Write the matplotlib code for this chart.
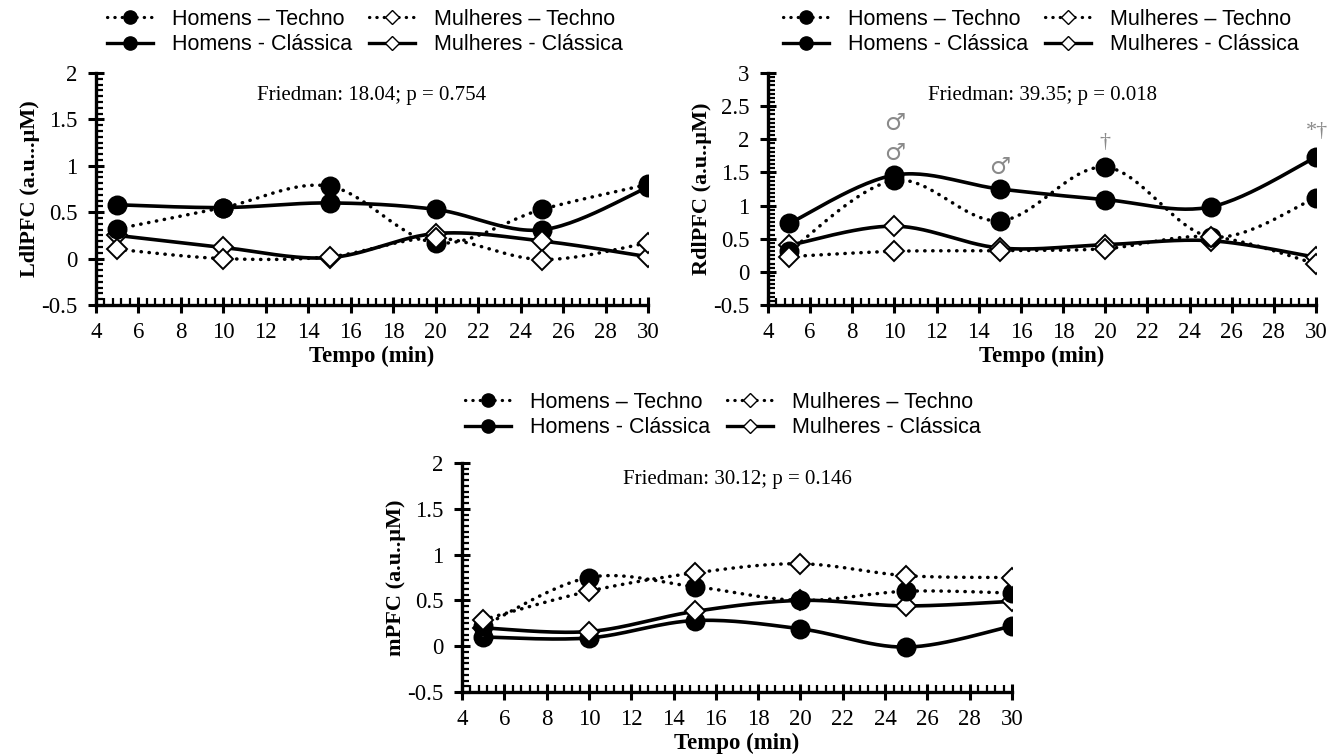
import numpy as np
import matplotlib
matplotlib.use("Agg")
import matplotlib.pyplot as plt
from matplotlib.ticker import MultipleLocator
from matplotlib.lines import Line2D

# ---------------- data ----------------
tempo = [5, 10, 15, 20, 25, 30]

# LdlPFC
l_hom_techno = [0.32, 0.55, 0.78, 0.17, 0.53, 0.80]
l_hom_classica = [0.58, 0.55, 0.60, 0.53, 0.31, 0.77]
l_mul_techno = [0.10, 0.00, 0.02, 0.22, -0.01, 0.17]
l_mul_classica = [0.25, 0.12, 0.01, 0.27, 0.19, 0.02]

# RdlPFC
r_hom_techno = [0.31, 1.38, 0.77, 1.58, 0.53, 1.12]
r_hom_classica = [0.73, 1.46, 1.25, 1.09, 0.98, 1.73]
r_mul_techno = [0.23, 0.31, 0.32, 0.35, 0.53, 0.12]
r_mul_classica = [0.40, 0.69, 0.36, 0.41, 0.47, 0.22]

# mPFC
m_hom_techno = [0.22, 0.75, 0.65, 0.50, 0.60, 0.58]
m_hom_classica = [0.10, 0.09, 0.28, 0.19, -0.01, 0.22]
m_mul_techno = [0.29, 0.60, 0.80, 0.90, 0.77, 0.75]
m_mul_classica = [0.20, 0.16, 0.38, 0.50, 0.44, 0.49]

series_labels = ["Homens \u2013 Techno", "Homens - Cl\u00e1ssica",
                 "Mulheres \u2013 Techno", "Mulheres - Cl\u00e1ssica"]
friedman_texts = ["Friedman: 18.04; p = 0.754",
                  "Friedman: 39.35; p = 0.018",
                  "Friedman: 30.12; p = 0.146"]
ylabels = ["LdlPFC (a.u...\u03bcM)", "RdlPFC (a.u..\u03bcM)", "mPFC (a.u..\u03bcM)"]
ylims = [(-0.5, 2), (-0.5, 3), (-0.5, 2)]

# annotations on RdlPFC panel
annot_x = [10, 10, 15, 20, 30.05]
annot_y = [2.24, 1.80, 1.58, 1.95, 2.11]
annot_txt = ["\u2642", "\u2642", "\u2642", "\u2020", "*\u2020"]

SERIF = ["Liberation Serif", "DejaVu Serif"]
SANS = ["Liberation Sans", "DejaVu Sans"]


def smooth(x, y, n=30):
    P = np.column_stack([x, y]).astype(float)
    P = np.vstack([P[0], P, P[-1]])
    xs, ys = [], []
    t = np.linspace(0, 1, n)[:, None]
    for i in range(1, len(P) - 2):
        p0, p1, p2, p3 = P[i - 1], P[i], P[i + 1], P[i + 2]
        c1 = p1 + (p2 - p0) / 6.0
        c2 = p2 - (p3 - p1) / 6.0
        B = ((1 - t) ** 3) * p1 + 3 * ((1 - t) ** 2) * t * c1 + 3 * (1 - t) * t ** 2 * c2 + t ** 3 * p2
        xs.extend(B[:, 0]); ys.extend(B[:, 1])
    return np.array(xs), np.array(ys)


DOT = (0, (0.1, 2.2))
styles = [
    dict(ls=DOT, marker="o", mfc="black", mec="black", ms=13),   # hom techno
    dict(ls="-", marker="o", mfc="black", mec="black", ms=13),   # hom classica
    dict(ls=DOT, marker="D", mfc="white", mec="black", ms=10.5),   # mul techno
    dict(ls="-", marker="D", mfc="white", mec="black", ms=10.5),   # mul classica
]

fig = plt.figure(figsize=(13.3, 7.55), dpi=100)
axes_rects = [
    [96 / 1330, 1 - 305 / 755, 552 / 1330, 232 / 755],
    [768 / 1330, 1 - 305 / 755, 548 / 1330, 232 / 755],
    [462 / 1330, 1 - 692 / 755, 550 / 1330, 229 / 755],
]
legend_anchor = [(107 / 1330, 1 - 9 / 755), (783 / 1330, 1 - 9 / 755),
                 (465 / 1330, 1 - 392 / 755)]

panels = [
    [l_hom_techno, l_hom_classica, l_mul_techno, l_mul_classica],
    [r_hom_techno, r_hom_classica, r_mul_techno, r_mul_classica],
    [m_hom_techno, m_hom_classica, m_mul_techno, m_mul_classica],
]

for k, rect in enumerate(axes_rects):
    ax = fig.add_axes(rect)
    order = [1, 3, 0, 2]
    for i in order:
        vals = panels[k][i]
        st = styles[i]
        sx, sy = smooth(tempo, vals)
        lw = 2.6 if st["ls"] == "-" else 2.5
        ax.plot(sx, sy, color="black", lw=lw, ls=st["ls"], dash_capstyle="round",
                solid_capstyle="round", zorder=2)
        ax.plot(tempo, vals, ls="none", marker=st["marker"], mfc=st["mfc"],
                mec=st["mec"], ms=st["ms"], mew=1.4, zorder=3)
    ax.set_xlim(4, 30)
    ax.set_ylim(*ylims[k])
    ax.xaxis.set_major_locator(MultipleLocator(2))
    ax.xaxis.set_minor_locator(MultipleLocator(0.4))
    ax.yaxis.set_minor_locator(MultipleLocator(0.0625))
    for s in ["top", "right"]:
        ax.spines[s].set_visible(False)
    for s in ["left", "bottom"]:
        ax.spines[s].set_linewidth(2.4)
    ax.tick_params(which="major", direction="inout", length=11, width=2.2)
    ax.tick_params(axis="x", which="major", pad=7)
    ax.tick_params(axis="y", which="major", pad=8)
    ax.tick_params(which="minor", direction="in", length=5, width=1.6)
    yt = np.arange(ylims[k][0], ylims[k][1] + 0.01, 0.5)
    ax.set_yticks(yt)
    ax.set_yticklabels([("%g" % v) for v in yt])
    for lab in ax.get_xticklabels() + ax.get_yticklabels():
        lab.set_fontfamily(SERIF)
        lab.set_fontsize(16.5)
    ax.set_xlabel("Tempo (min)", fontfamily=SERIF, fontweight="bold", fontsize=16.5, labelpad=2)
    ax.set_ylabel(ylabels[k], fontfamily=SERIF, fontweight="bold", fontsize=16, labelpad=1)
    ty = 0.93 if k == 2 else 0.905
    ax.text(0.5, ty, friedman_texts[k], transform=ax.transAxes, ha="center", va="center",
            fontfamily=SERIF, fontsize=15)

    if k == 1:
        for xa, ya, tx in zip(annot_x, annot_y, annot_txt):
            ax.text(xa, ya, tx, ha="center", va="center", color="#8a8a8a",
                    fontfamily=["DejaVu Sans"] if tx == "\u2642" else SERIF,
                    fontsize=17 if tx == "\u2642" else 16, clip_on=False)

    handles = []
    for i in [0, 1, 2, 3]:
        st = styles[i]
        handles.append(Line2D([], [], color="black", lw=2.4 if st["ls"] == "-" else 2.3,
                              ls=st["ls"], marker=st["marker"], mfc=st["mfc"], mec=st["mec"],
                              ms=9.5 if i < 2 else 7, mew=1.0,
                              dash_capstyle="round"))
    fig.legend(handles=handles, labels=series_labels, loc="upper left",
               bbox_to_anchor=legend_anchor[k], ncol=2, frameon=False,
               prop={"family": SANS, "size": 15.5}, handlelength=2.15,
               handletextpad=0.85, columnspacing=0.8, labelspacing=0.2,
               borderpad=0.0, borderaxespad=0)

fig.savefig("out.png", dpi=100)
